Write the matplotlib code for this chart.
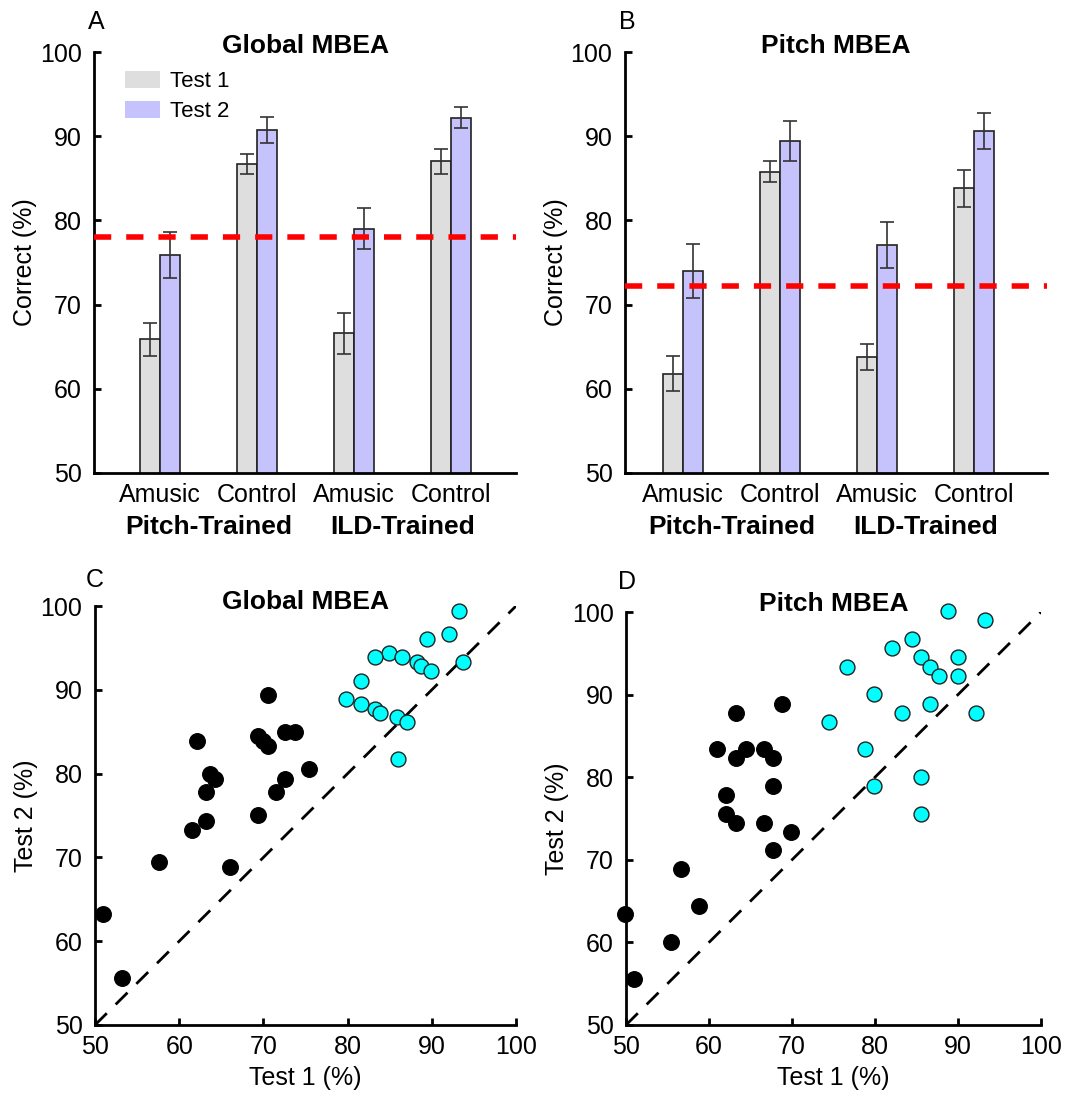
import numpy as np
import matplotlib
matplotlib.use("Agg")
import matplotlib.pyplot as plt
from matplotlib.patches import Patch

plt.rcParams['font.family'] = ['Liberation Sans', 'DejaVu Sans']

# bar data: Amusic / Control for Pitch-Trained, then ILD-Trained
groups = ["Amusic", "Control", "Amusic", "Control"]
training = ["Pitch-Trained", "ILD-Trained"]

glob_t1 = [65.9, 86.7, 66.6, 87.0]
glob_t1_err = [1.95, 1.15, 2.45, 1.5]
glob_t2 = [75.9, 90.7, 79.0, 92.2]
glob_t2_err = [2.7, 1.55, 2.45, 1.25]
glob_cut = 78.0

pitch_t1 = [61.8, 85.8, 63.8, 83.8]
pitch_t1_err = [2.1, 1.2, 1.55, 2.2]
pitch_t2 = [74.0, 89.4, 77.1, 90.6]
pitch_t2_err = [3.2, 2.35, 2.7, 2.15]
pitch_cut = 72.2

# scatter data (test 1, test 2)
c_amu_x = [51.0, 53.2, 57.6, 61.5, 62.1, 63.2, 63.2, 63.7, 64.3, 66.0,
           69.3, 69.9, 70.5, 70.5, 69.3, 71.5, 72.6, 73.8, 72.6, 75.4]
c_amu_y = [63.3, 55.6, 69.4, 73.3, 83.9, 77.8, 74.4, 80.0, 79.4, 68.9,
           84.5, 83.9, 83.3, 89.4, 75.0, 77.8, 85.0, 85.0, 79.4, 80.5]
c_con_x = [93.2, 92.0, 89.4, 84.9, 83.2, 86.5, 88.2, 88.7, 89.9, 93.7,
           81.6, 79.8, 81.6, 83.2, 83.8, 85.9, 87.1, 86.0]
c_con_y = [99.4, 96.7, 96.1, 94.4, 93.9, 93.9, 93.3, 92.8, 92.2, 93.3,
           91.1, 88.9, 88.3, 87.7, 87.2, 86.7, 86.1, 81.7]

d_amu_x = [49.9, 51.0, 55.4, 56.6, 58.8, 61.0, 63.2, 63.2, 64.4, 66.6,
           67.7, 67.7, 68.8, 62.1, 62.1, 63.2, 66.6, 69.9, 67.7]
d_amu_y = [63.4, 55.6, 60.0, 68.9, 64.4, 83.4, 87.8, 82.3, 83.4, 83.4,
           82.3, 78.9, 88.9, 77.8, 75.6, 74.5, 74.5, 73.4, 71.2]
d_con_x = [88.8, 93.3, 84.4, 82.1, 85.5, 90.0, 86.6, 87.7, 90.0, 76.6,
           79.9, 86.6, 83.3, 92.2, 74.4, 78.8, 85.5, 79.9, 85.5]
d_con_y = [100.1, 99.0, 96.7, 95.6, 94.5, 94.5, 93.4, 92.3, 92.3, 93.4,
           90.1, 88.9, 87.8, 87.8, 86.7, 83.4, 80.0, 78.9, 75.6]

col_t1 = "#dedede"
col_t2 = "#c6c2fb"
W, H = 1068, 1097

fig = plt.figure(figsize=(W / 100, H / 100), dpi=100)


def px_axes(l, t, r, b):
    return fig.add_axes([l / W, 1 - b / H, (r - l) / W, (b - t) / H])


def style(ax):
    for s in ["top", "right"]:
        ax.spines[s].set_visible(False)
    for s in ["left", "bottom"]:
        ax.spines[s].set_linewidth(2)
    ax.tick_params(direction="in", length=5, width=2, labelsize=18)
    ax.tick_params(axis="y", pad=9)
    ax.tick_params(axis="x", pad=7)


def bar_panel(ax, t1, e1, t2, e2, cut, title, xlim):
    x = np.arange(1, 5)
    w = 0.205
    ek = dict(ecolor="#333333", elinewidth=1.2, capsize=5, capthick=1.2)
    ax.bar(x - w / 2, t1, w, color=col_t1, edgecolor="#222222",
           linewidth=1.2, yerr=e1, error_kw=ek, zorder=2)
    ax.bar(x + w / 2, t2, w, color=col_t2, edgecolor="#222222",
           linewidth=1.2, yerr=e2, error_kw=ek, zorder=2)
    ax.axhline(cut, color="red", lw=4, dashes=(3.1, 2.7), zorder=3)
    ax.set_ylim(50, 100)
    ax.set_xlim(*xlim)
    ax.set_yticks([50, 60, 70, 80, 90, 100])
    ax.set_xticks(x)
    ax.set_xticklabels(groups)
    style(ax)
    ax.tick_params(axis="x", pad=7)
    ax.set_ylabel("Correct (%)", fontsize=18, labelpad=2)
    ax.set_title(title, fontsize=19, fontweight="bold", y=1.0, pad=-1)
    for i, lab in enumerate(training):
        ax.text(1.5 + 2 * i, -0.128, lab, transform=ax.get_xaxis_transform(),
                ha="center", va="center", fontsize=19, fontweight="bold")


def scatter_panel(ax, ax_, ay_, cx_, cy_, title, tpad):
    ax.plot([50, 100], [50, 100], color="black", lw=2, dashes=(6, 4.5), zorder=1)
    ax.scatter(ax_, ay_, s=125, color="black", edgecolor="black", zorder=3,
               clip_on=False)
    ax.scatter(cx_, cy_, s=115, color="#00ffff", edgecolor="#222222",
               linewidth=1, zorder=3, clip_on=False)
    ax.set_xlim(50, 100)
    ax.set_ylim(50, 100)
    ax.set_xticks([50, 60, 70, 80, 90, 100])
    ax.set_yticks([50, 60, 70, 80, 90, 100])
    style(ax)
    ax.set_xlabel("Test 1 (%)", fontsize=18, labelpad=5)
    ax.set_ylabel("Test 2 (%)", fontsize=18, labelpad=2)
    ax.set_title(title, fontsize=19, fontweight="bold", y=1.0, pad=tpad)


axA = px_axes(94, 52, 516, 473)
bar_panel(axA, glob_t1, glob_t1_err, glob_t2, glob_t2_err, glob_cut,
          "Global MBEA", (0.32, 4.67))
handles = [Patch(facecolor=col_t1, edgecolor="none"),
           Patch(facecolor=col_t2, edgecolor="none")]
axA.legend(handles, ["Test 1", "Test 2"], loc="upper left",
           bbox_to_anchor=(0.073, 0.955), frameon=False, fontsize=16,
           borderpad=0, borderaxespad=0, handlelength=1.6, handleheight=0.8,
           handletextpad=0.45, labelspacing=0.4)

axB = px_axes(625, 52, 1047, 473)
bar_panel(axB, pitch_t1, pitch_t1_err, pitch_t2, pitch_t2_err, pitch_cut,
          "Pitch MBEA", (0.40, 4.75))

axC = px_axes(95, 606, 516, 1025)
scatter_panel(axC, c_amu_x, c_amu_y, c_con_x, c_con_y, "Global MBEA", -2)

axD = px_axes(626, 612, 1041, 1025)
scatter_panel(axD, d_amu_x, d_amu_y, d_con_x, d_con_y, "Pitch MBEA", 1)

for lab, (x, y) in zip("ABCD", [(96, 22), (627, 22), (95, 580), (627, 582)]):
    fig.text(x / W, 1 - y / H, lab, fontsize=18, ha="center", va="center")

fig.savefig("out.png", dpi=100)
